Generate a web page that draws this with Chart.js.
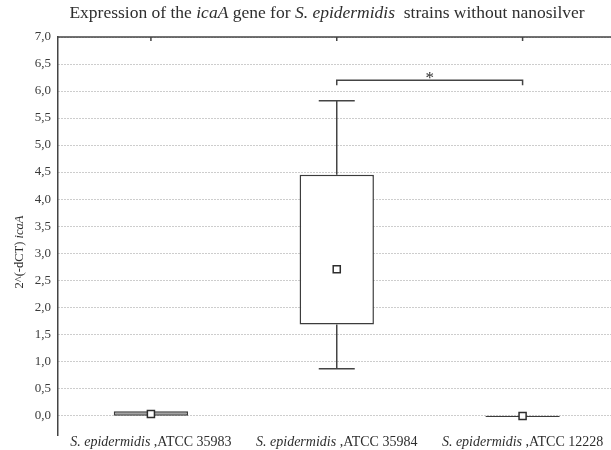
<!DOCTYPE html>
<html>
<head>
<meta charset="utf-8">
<title>icaA expression</title>
<script src="https://cdn.jsdelivr.net/npm/chart.js@4.4.1/dist/chart.umd.min.js"></script>
<style>
  html, body { margin: 0; padding: 0; background: #fff; overflow: hidden; }
  #wrap { width: 622px; height: 450px; }
</style>
</head>
<body>
<div id="wrap"><canvas id="boxChart"></canvas></div>
<script>
// per strain: whiskers, box (quartiles) and the middle marker
const strains = ['ATCC 35983', 'ATCC 35984', 'ATCC 12228'];
const whiskerLow = [-0.01, 0.86, -0.035];
const boxLow = [-0.01, 1.68, -0.035];
const middle = [0.023, 2.70, -0.015];
const boxHigh = [0.075, 4.45, 0.0];
const whiskerHigh = [0.075, 5.82, 0.0];
const boxFill = ['#a4a4a4', '#ffffff', '#3c3c3c'];

// significance bracket between strain 2 and 3
const sigFrom = 1;
const sigTo = 2;
const sigLevel = 6.2;
const sigMark = '*';

const SERIF = '"Liberation Serif", "DejaVu Serif", serif';
const INK = '#2e2e2e';

function richWidth(ctx, parts, size) {
    let w = 0;
    parts.forEach(p => {
        ctx.font = (p.i ? 'italic ' : '') + size + 'px ' + SERIF;
        w += ctx.measureText(p.t).width;
    });
    return w;
}

// draws text made of upright and italic pieces, centred on x
function drawRich(ctx, parts, x, y, size) {
    let cx = x - richWidth(ctx, parts, size) / 2;
    ctx.textAlign = 'left';
    ctx.textBaseline = 'middle';
    ctx.fillStyle = INK;
    parts.forEach(p => {
        ctx.font = (p.i ? 'italic ' : '') + size + 'px ' + SERIF;
        ctx.fillText(p.t, cx, y);
        cx += ctx.measureText(p.t).width;
    });
}

const decorations = {
    id: 'decorations',
    afterDatasetsDraw(chart) {
        const ctx = chart.ctx;
        const area = chart.chartArea;
        const xs = chart.scales.x;
        const ys = chart.scales.y;
        ctx.save();
        ctx.strokeStyle = '#444';
        ctx.lineWidth = 1.5;

        // top frame line and tick marks
        ctx.beginPath();
        ctx.moveTo(area.left, area.top);
        ctx.lineTo(area.right, area.top);
        strains.forEach((s, i) => {
            const x = xs.getPixelForValue(i);
            ctx.moveTo(x, area.top);
            ctx.lineTo(x, area.top + 4);
        });
        ctx.stroke();

        // whiskers with caps
        const capHalf = 18;
        ctx.beginPath();
        strains.forEach((s, i) => {
            const x = xs.getPixelForValue(i);
            if (whiskerHigh[i] > boxHigh[i]) {
                const y0 = ys.getPixelForValue(boxHigh[i]);
                const y1 = ys.getPixelForValue(whiskerHigh[i]);
                ctx.moveTo(x, y0); ctx.lineTo(x, y1);
                ctx.moveTo(x - capHalf, y1); ctx.lineTo(x + capHalf, y1);
            }
            if (whiskerLow[i] < boxLow[i]) {
                const y0 = ys.getPixelForValue(boxLow[i]);
                const y1 = ys.getPixelForValue(whiskerLow[i]);
                ctx.moveTo(x, y0); ctx.lineTo(x, y1);
                ctx.moveTo(x - capHalf, y1); ctx.lineTo(x + capHalf, y1);
            }
        });
        ctx.stroke();

        // significance bracket
        const bx0 = xs.getPixelForValue(sigFrom);
        const bx1 = xs.getPixelForValue(sigTo);
        const by = ys.getPixelForValue(sigLevel);
        ctx.beginPath();
        ctx.moveTo(bx0, by + 5);
        ctx.lineTo(bx0, by);
        ctx.lineTo(bx1, by);
        ctx.lineTo(bx1, by + 5);
        ctx.stroke();
        ctx.fillStyle = INK;
        ctx.font = '17px ' + SERIF;
        ctx.textAlign = 'center';
        ctx.textBaseline = 'middle';
        ctx.fillText(sigMark, (bx0 + bx1) / 2, by - 2);

        // category labels
        strains.forEach((s, i) => {
            drawRich(ctx, [{t: 'S. epidermidis', i: true}, {t: ' ,' + s, i: false}],
                xs.getPixelForValue(i), 442, 14);
        });

        // chart title
        drawRich(ctx, [
            {t: 'Expression of the ', i: false},
            {t: 'icaA', i: true},
            {t: ' gene for ', i: false},
            {t: 'S. epidermidis', i: true},
            {t: '  strains without nanosilver', i: false}
        ], 327, 13, 17.5);

        // y axis title
        ctx.translate(20, 252);
        ctx.rotate(-Math.PI / 2);
        drawRich(ctx, [{t: '2^(-dCT) ', i: false}, {t: 'icaA', i: true}], 0, 0, 12.5);
        ctx.restore();
    }
};

const ctx = document.getElementById('boxChart').getContext('2d');
const chart = new Chart(ctx, {
    type: 'bar',
    data: {
        labels: strains,
        datasets: [
            {
                type: 'line',
                data: middle,
                showLine: false,
                pointStyle: 'rect',
                pointRadius: 5,
                pointBorderWidth: 1.5,
                pointBackgroundColor: '#ffffff',
                pointBorderColor: '#2e2e2e'
            },
            {
                type: 'bar',
                data: boxLow.map((v, i) => [v, boxHigh[i]]),
                backgroundColor: boxFill,
                borderColor: '#3c3c3c',
                borderWidth: 1.5,
                borderSkipped: false,
                categoryPercentage: 1,
                barPercentage: 0.4
            }
        ]
    },
    options: {
        responsive: true,
        maintainAspectRatio: false,
        animation: false,
        layout: { padding: { top: 37, right: 2, bottom: 0, left: 0 } },
        plugins: {
            legend: { display: false },
            tooltip: { enabled: false }
        },
        scales: {
            x: { display: false },
            y: {
                min: -0.37,
                max: 7,
                afterFit: function (scale) { scale.width = 58; },
                afterBuildTicks: function (scale) {
                    scale.ticks = scale.ticks.filter(t => t.value >= -1e-6 && Math.abs(t.value * 2 - Math.round(t.value * 2)) < 1e-6);
                },
                ticks: {
                    stepSize: 0.5,
                    padding: 7,
                    color: '#3a3a3a',
                    font: { family: SERIF, size: 13 },
                    callback: v => v.toFixed(1).replace('.', ',')
                },
                grid: { color: '#9a9a9a', lineWidth: 1, drawTicks: false },
                border: { display: true, color: '#444', width: 1.5, dash: [1, 2] }
            }
        }
    },
    plugins: [decorations]
});
</script>
</body>
</html>
